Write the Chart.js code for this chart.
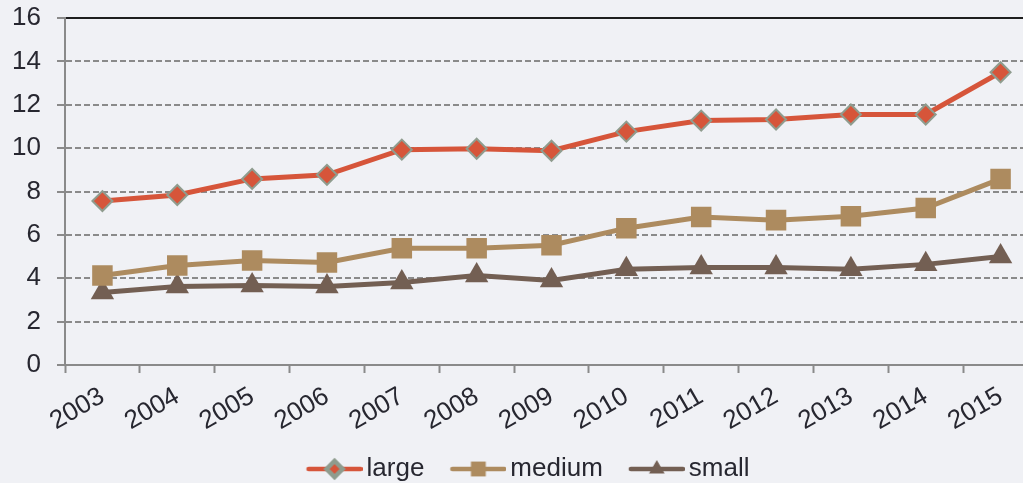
<!DOCTYPE html>
<html>
<head>
<meta charset="utf-8">
<script src="https://cdn.jsdelivr.net/npm/chart.js@4"></script>
<style>
  html, body { margin: 0; padding: 0; background: #f0f1f5; overflow: hidden; }
  #clip { position: relative; width: 1023px; height: 483px; overflow: hidden; }
  canvas { display: block; }
</style>
</head>
<body>
<div id="clip"><canvas id="chart" width="1038" height="483"></canvas></div>
<script>
const years = ["2003", "2004", "2005", "2006", "2007", "2008", "2009", "2010", "2011", "2012", "2013", "2014", "2015"];
const large = [7.56, 7.84, 8.58, 8.77, 9.93, 9.97, 9.88, 10.76, 11.27, 11.32, 11.55, 11.55, 13.5];
const medium = [4.13, 4.59, 4.82, 4.73, 5.38, 5.38, 5.52, 6.31, 6.82, 6.68, 6.86, 7.24, 8.58];
const small = [3.34, 3.62, 3.66, 3.62, 3.8, 4.13, 3.9, 4.41, 4.5, 4.5, 4.41, 4.64, 5.0];

const red = "#d6553a";
const tan = "#ad8b5f";
const brown = "#735f53";
const textColor = "#272730";
const gridGrey = "#8a8a8a";
const fontFamily = "'Liberation Sans', Arial, sans-serif";

// legend symbol: short line with the marker in the middle
// (blank space on the left gives the gap between legend items)
function legendIcon(color, style, radius, border) {
  const c = document.createElement("canvas");
  c.width = 83;
  c.height = 26;
  const ctx = c.getContext("2d");
  ctx.strokeStyle = color;
  ctx.lineWidth = 4.5;
  ctx.lineCap = "round";
  ctx.beginPath();
  ctx.moveTo(29, 13);
  ctx.lineTo(81, 13);
  ctx.stroke();
  ctx.fillStyle = color;
  ctx.strokeStyle = border || color;
  Chart.helpers.drawPoint(ctx, { pointStyle: style, radius: radius, rotation: 0, borderWidth: border ? 1.5 : 0 }, 55, 13);
  return c;
}

const icons = [
  legendIcon(red, "rectRot", 8, "#8f9c8e"),
  legendIcon(tan, "rect", 10.5),
  legendIcon(brown, "triangle", 9),
];

const ctx = document.getElementById("chart").getContext("2d");
new Chart(ctx, {
  type: "line",
  data: {
    labels: years,
    datasets: [
      {
        label: "large",
        data: large,
        borderColor: red,
        backgroundColor: red,
        borderWidth: 5,
        pointStyle: "rectRot",
        pointRadius: 10,
        pointBorderColor: "#8f9c8e",
        pointBorderWidth: 2,
        pointBackgroundColor: red,
      },
      {
        label: "medium",
        data: medium,
        borderColor: tan,
        backgroundColor: tan,
        borderWidth: 5,
        pointStyle: "rect",
        pointRadius: 14.5,
        pointBorderWidth: 0,
        pointBackgroundColor: tan,
      },
      {
        label: "small",
        data: small,
        borderColor: brown,
        backgroundColor: brown,
        borderWidth: 5,
        pointStyle: "triangle",
        pointRadius: 13.5,
        pointBorderWidth: 0,
        pointBackgroundColor: brown,
      },
    ],
  },
  options: {
    responsive: false,
    animation: false,
    layout: { autoPadding: false, padding: { left: 0, top: 18, right: 0, bottom: -9 } },
    scales: {
      x: {
        offset: true,
        afterFit: (scale) => {
          scale.height = 83;
          scale.paddingLeft = 0;
          scale.paddingRight = 0;
        },
        grid: {
          offset: true,
          drawOnChartArea: false,
          drawTicks: true,
          tickLength: 8,
          tickColor: gridGrey,
          tickWidth: 2,
        },
        border: { color: gridGrey, width: 2 },
        ticks: {
          color: textColor,
          font: { family: fontFamily, size: 26 },
          minRotation: 30,
          maxRotation: 30,
          padding: 8,
        },
      },
      y: {
        min: 0,
        max: 16,
        afterFit: (scale) => {
          scale.width = 65;
          scale.paddingTop = 0;
          scale.paddingBottom = 0;
        },
        ticks: {
          stepSize: 2,
          color: textColor,
          font: { family: fontFamily, size: 26 },
          padding: 16,
        },
        grid: {
          tickLength: 8,
          lineWidth: 2,
          color: (c) => (c.tick.value === 16 ? "#1e1e1e" : c.tick.value === 0 ? "rgba(0,0,0,0)" : gridGrey),
          tickColor: gridGrey,
          tickWidth: 2,
          tickBorderDash: [],
        },
        border: {
          color: gridGrey,
          width: 2,
          dash: (c) => (c.tick && c.tick.value === 16 ? [] : [6, 3]),
        },
      },
    },
    plugins: {
      tooltip: { enabled: false },
      legend: {
        position: "bottom",
        labels: {
          color: textColor,
          font: { family: fontFamily, size: 26 },
          usePointStyle: true,
          pointStyleWidth: 65,
          boxHeight: 26,
          padding: 8,
          generateLabels: (chart) => {
            const items = Chart.defaults.plugins.legend.labels.generateLabels(chart);
            items.forEach((item, i) => {
              item.pointStyle = icons[i];
            });
            return items;
          },
        },
      },
    },
  },
});
</script>
</body>
</html>
